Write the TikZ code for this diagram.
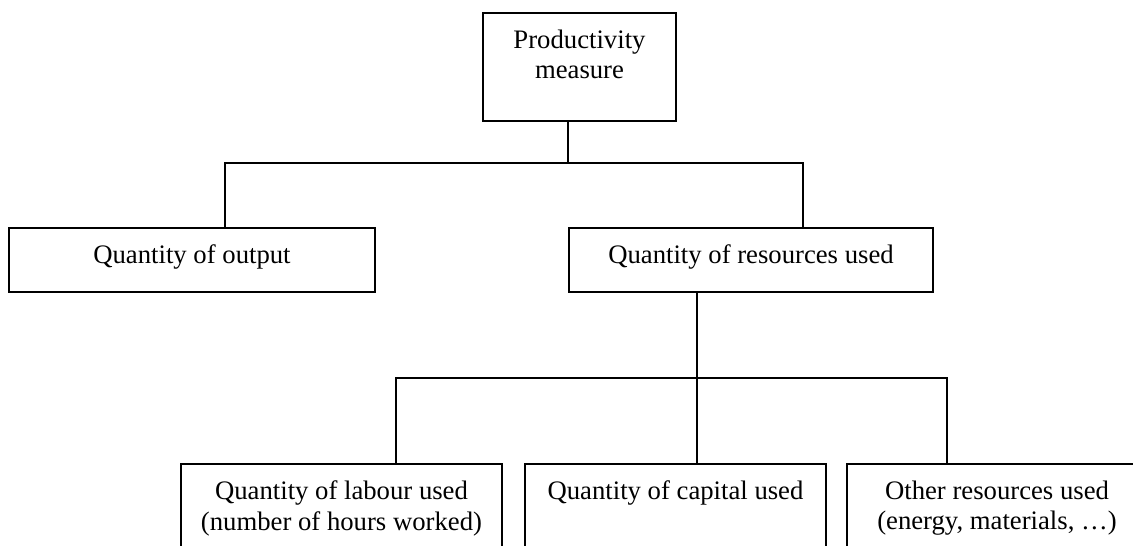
\documentclass[tikz,border=0pt]{standalone}
\usepackage{fontspec}
\setmainfont{Liberation Serif}
\begin{document}
\begin{tikzpicture}[x=1pt,y=1pt,
  box/.style={draw,line width=2pt,inner sep=0pt},
  txt/.style={align=center,inner sep=0pt,anchor=north,yshift=-17.5pt,font=\fontsize{26.7}{30.7}\selectfont},
  link/.style={line width=1.5pt}]
\useasboundingbox (0,0) rectangle (1133,-546);
\clip (0,0) rectangle (1133,-546);
\node[box,minimum width=193pt,minimum height=108pt,label={[txt,name=pmt]north:{Productivity\\measure}}] (pm) at (579.5,-67) {};
\node[box,minimum width=366pt,minimum height=64pt,label={[txt,name=outt]north:{Quantity of output}}] (out) at (192,-260) {};
\node[box,minimum width=364pt,minimum height=64pt,label={[txt,name=rest]north:{Quantity of resources used}}] (res) at (751,-260) {};
\node[box,minimum width=321pt,minimum height=110pt,label={[txt,name=labt]north:{Quantity of labour used\\(number of hours worked)}}] (lab) at (341.5,-519) {};
\node[box,minimum width=301pt,minimum height=110pt,label={[txt,name=capt]north:{Quantity of capital used}}] (cap) at (675.5,-519) {};
\node[box,minimum width=300pt,minimum height=110pt,label={[txt,name=otht]north:{Other resources used\\(energy, materials, \dots)}}] (oth) at (997,-519) {};
\draw[link] ([xshift=-11.5pt]pm.south) -- ++(0,-41);
\draw[link] ([xshift=33pt]out.north) -- ++(0,64) -| ([xshift=52pt]res.north);
\draw[link] ([xshift=-54pt]res.south) -- ([xshift=21.5pt]cap.north);
\draw[link] ([xshift=54.5pt]lab.north) -- ++(0,85) -| ([xshift=-50pt]oth.north);
\end{tikzpicture}
\end{document}
